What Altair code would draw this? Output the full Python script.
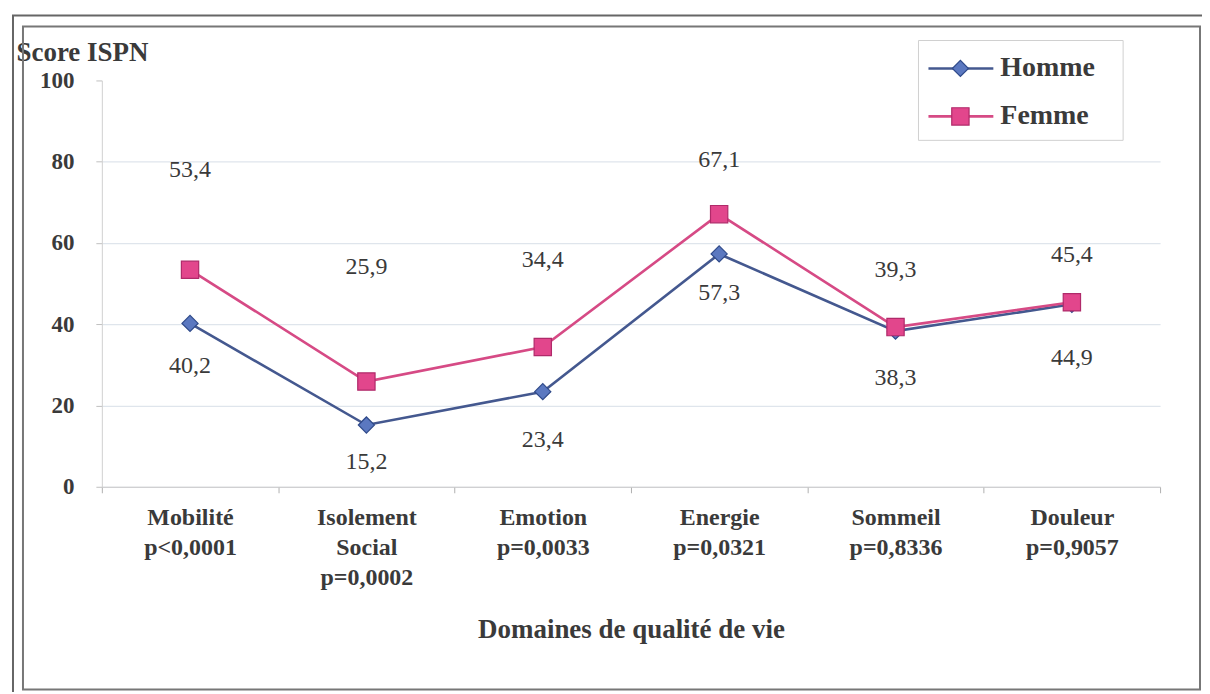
import altair as alt
import pandas as pd

categories = ["Mobilité|p<0,0001", "Isolement|Social|p=0,0002", "Emotion|p=0,0033",
              "Energie|p=0,0321", "Sommeil|p=0,8336", "Douleur|p=0,9057"]
homme = [40.2, 15.2, 23.4, 57.3, 38.3, 44.9]
femme = [53.4, 25.9, 34.4, 67.1, 39.3, 45.4]
homme_labels = ["40,2", "15,2", "23,4", "57,3", "38,3", "44,9"]
femme_labels = ["53,4", "25,9", "34,4", "67,1", "39,3", "45,4"]
y_ticks = [0, 20, 40, 60, 80, 100]

# label offsets (pixels, styling only)
homme_dy = [43, 37, 48, 39, 47, 54]
femme_dy = [-100, -115, -87, -54, -57, -47]

FONT = "Liberation Serif"
TXT = "#3a3a3a"
BLUE_L, BLUE_F, BLUE_S = "#44588f", "#5b78c0", "#2f4a8a"
PINK_L, PINK_F, PINK_S = "#d64a85", "#e2468c", "#b02a6a"

W, H = 1060, 407

df = pd.DataFrame({
    "cat": categories * 2,
    "score": homme + femme,
    "serie": ["Homme"] * 6 + ["Femme"] * 6,
    "label": homme_labels + femme_labels,
})

xenc = alt.X("cat:N", sort=categories, scale=alt.Scale(paddingInner=0, paddingOuter=0),
             axis=alt.Axis(title="Domaines de qualité de vie", labelAngle=0,
                           labelExpr="split(datum.label, '|')",
                           labelFont=FONT, labelFontSize=24, labelFontWeight="bold",
                           labelColor=TXT, labelPadding=13, labelLineHeight=30,
                           labelBaseline="top",
                           titleFont=FONT, titleFontSize=27, titleFontWeight="bold",
                           titleColor=TXT, titleY=143, titleBaseline="middle",
                           domainColor="#c8c8c8", tickColor="#b0b0b0", tickSize=6,
                           tickBand="extent", grid=False))
yenc = alt.Y("score:Q", scale=alt.Scale(domain=[0, 100], nice=False),
             axis=alt.Axis(title="Score ISPN", values=y_ticks, titleAngle=0,
                           titleAlign="left", titleBaseline="middle", titleX=-86, titleY=-28,
                           titleFont=FONT, titleFontSize=27, titleFontWeight="bold",
                           titleColor=TXT, labelFont=FONT, labelFontSize=23,
                           labelFontWeight="bold", labelColor=TXT, labelPadding=22,
                           tickSize=6, tickColor="#c0c0c0", domainColor="#d0d0d0",
                           gridColor="#dfe5ec", gridWidth=1.2,
                           gridOpacity={"condition": {"test": "datum.value == 100", "value": 0},
                                        "value": 1}))

base = alt.Chart(df)

lines = base.mark_line(strokeWidth=2.6).encode(
    x=xenc, y=yenc,
    color=alt.Color("serie:N", scale=alt.Scale(domain=["Homme", "Femme"], range=[BLUE_L, PINK_L]),
                    legend=None),
)
pts_h = base.transform_filter("datum.serie == 'Homme'").mark_point(
    shape="diamond", size=260, filled=True, fill=BLUE_F, stroke=BLUE_S, strokeWidth=1.2, opacity=1
).encode(x=alt.X("cat:N", sort=categories), y="score:Q")
pts_f = base.transform_filter("datum.serie == 'Femme'").mark_point(
    shape="square", size=300, filled=True, fill=PINK_F, stroke=PINK_S, strokeWidth=1.2, opacity=1
).encode(x=alt.X("cat:N", sort=categories), y="score:Q")

label_layers = []
for i, c in enumerate(categories):
    for serie, dy in (("Homme", homme_dy[i]), ("Femme", femme_dy[i])):
        label_layers.append(
            base.transform_filter(f"datum.serie == '{serie}' && datum.cat == '{c}'")
            .mark_text(font=FONT, fontSize=24, color=TXT, dy=dy, baseline="middle")
            .encode(x=alt.X("cat:N", sort=categories), y="score:Q", text="label:N")
        )

# frame and legend (decorative)
frame_inner = alt.Chart(pd.DataFrame({"a": [0]})).mark_rect(
    fill=None, stroke="#777777", strokeWidth=2
).encode(x=alt.value(-79), x2=alt.value(1100), y=alt.value(-54), y2=alt.value(610))
frame_outer = alt.Chart(pd.DataFrame({"a": [0]})).mark_rect(
    fill=None, stroke="#666666", strokeWidth=2
).encode(x=alt.value(-89), x2=alt.value(1120), y=alt.value(-65), y2=alt.value(640))

leg_box = alt.Chart(pd.DataFrame({"a": [0]})).mark_rect(
    fill="white", stroke="#d0d0d0", strokeWidth=1
).encode(x=alt.value(818), x2=alt.value(1023), y=alt.value(-40), y2=alt.value(60))
leg_items = []
for name, yv, lc, fc, sc, shp, sz in (("Homme", -12, BLUE_L, BLUE_F, BLUE_S, "diamond", 260),
                                      ("Femme", 36, PINK_L, PINK_F, PINK_S, "square", 300)):
    one = alt.Chart(pd.DataFrame({"t": [name]}))
    leg_items.append(one.mark_rule(color=lc, strokeWidth=2.6).encode(
        x=alt.value(828), x2=alt.value(893), y=alt.value(yv)))
    leg_items.append(one.mark_point(shape=shp, size=sz, filled=True, fill=fc, stroke=sc,
                                    strokeWidth=1.2, opacity=1).encode(
        x=alt.value(860), y=alt.value(yv)))
    leg_items.append(one.mark_text(font=FONT, fontSize=28, fontWeight="bold", color=TXT,
                                   align="left", baseline="middle").encode(
        x=alt.value(900), y=alt.value(yv), text="t:N"))

chart = alt.layer(
    frame_outer, frame_inner, lines, pts_h, pts_f, *label_layers, leg_box, *leg_items
).properties(
    width=W, height=H,
    autosize=alt.AutoSizeParams(type="none"),
    padding={"left": 94, "top": 72, "right": 42, "bottom": 205},
    background="white",
).configure_view(stroke=None)

chart.save("out.html", embed_options={"renderer": "svg", "actions": False})
